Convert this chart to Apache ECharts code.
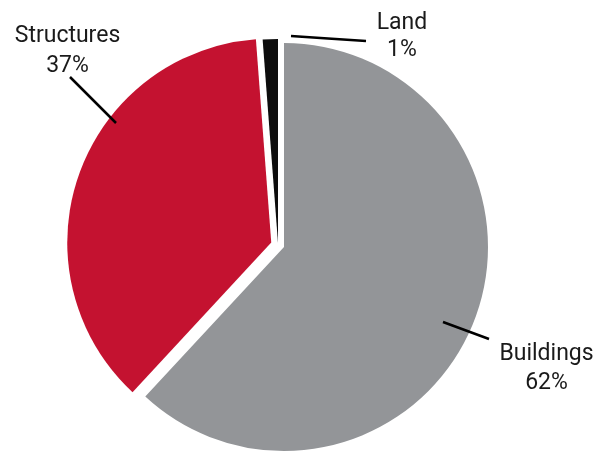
<!DOCTYPE html>
<html><head><meta charset="utf-8">
<script src="https://cdn.jsdelivr.net/npm/echarts@6/dist/echarts.min.js"></script>
<style>html,body{margin:0;padding:0;background:#fff}#c{width:600px;height:454px}</style>
</head><body><div id="c"></div>
<script>
const categories = ['Buildings', 'Structures', 'Land'];
const shares = [61.9, 36.9, 1.2];
const colors = ['#939598', '#C41230', '#0d0d0d'];

const labelSpots = {
  Buildings:  { x: 546.5, y: 369, lh: 29, line: [[443, 322], [466, 330.5], [489, 339]] },
  Structures: { x: 67.5,  y: 51,  lh: 29.5, line: [[116, 123], [93, 100], [70, 77]] },
  Land:       { x: 402,   y: 37,  lh: 27, line: [[291, 36], [328, 38.5], [366, 41]] }
};

const chart = echarts.init(document.getElementById('c'), null, { renderer: 'canvas' });

function makeData(visibleSet, withLabels) {
  return categories.map((name, i) => {
    const vis = visibleSet.indexOf(name) >= 0;
    const col = vis ? colors[i] : 'rgba(0,0,0,0)';
    return {
      name: name,
      value: shares[i],
      selected: vis && name === 'Structures',
      itemStyle: { color: col, borderWidth: 0 },
      select: { itemStyle: { color: col, borderWidth: 0 } },
      label: { show: withLabels, lineHeight: labelSpots[name].lh },
      labelLine: { show: withLabels }
    };
  });
}

function layoutFn(params) {
  const name = categories[params.dataIndex];
  const s = labelSpots[name];
  return { x: s.x, y: s.y, align: 'center', verticalAlign: 'middle', labelLinePoints: s.line };
}

const common = {
  type: 'pie',
  radius: 204,
  startAngle: 90,
  clockwise: true,
  avoidLabelOverlap: false,
  animation: false,
  emphasis: { disabled: true },
  label: {
    show: true,
    position: 'outside',
    fontFamily: 'Roboto',
    fontSize: 23,
    color: '#1a1a1a',
    align: 'center',
    formatter: p => p.name + '\n' + Math.round(p.value) + '%'
  },
  labelLine: { show: true, lineStyle: { color: '#000', width: 2.5 } },
  labelLayout: layoutFn
};

const option = {
  backgroundColor: '#fff',
  animation: false,
  series: [
    Object.assign({}, common, {
      center: [284, 247],
      z: 2,
      selectedMode: 'multiple',
      selectedOffset: 13.5,
      data: makeData(['Buildings', 'Structures'], false)
    }),
    Object.assign({}, common, {
      center: [278, 243],
      z: 5,
      silent: true,
      data: makeData(['Land'], true)
    })
  ]
};
chart.setOption(option);
</script>
</body></html>
